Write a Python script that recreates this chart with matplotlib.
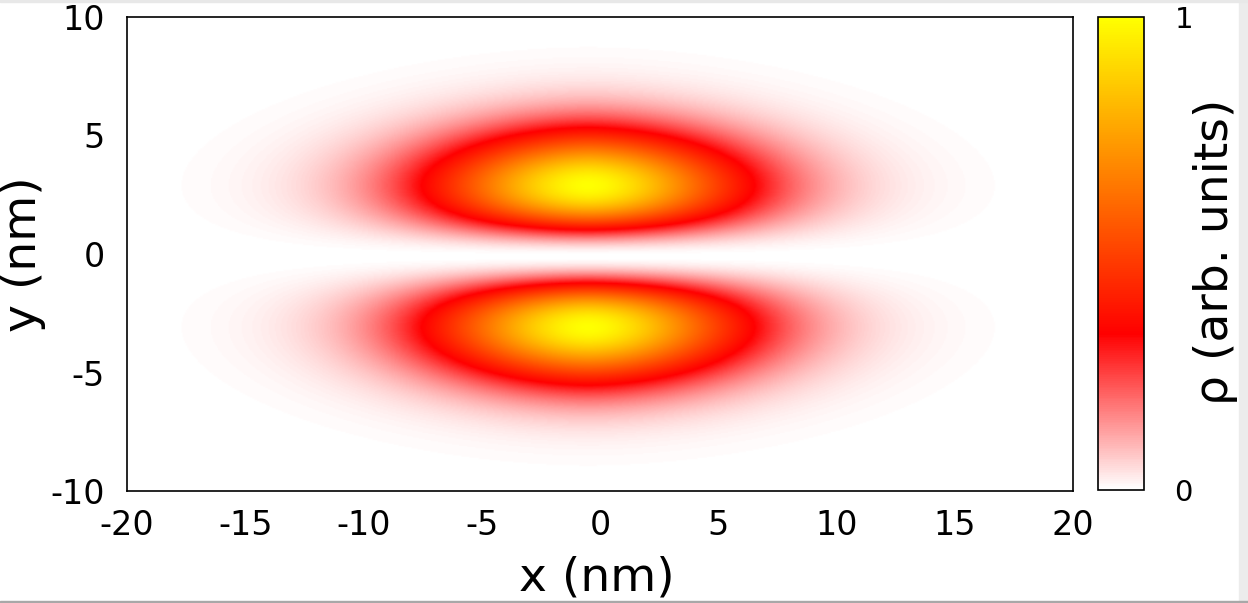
import numpy as np
import matplotlib.pyplot as plt
from matplotlib.colors import LinearSegmentedColormap
from matplotlib.patches import Rectangle

plt.rcParams['axes.unicode_minus'] = False

# axis ranges and ticks
x_range = [-20, 20]
y_range = [-10, 10]
x_ticks = [-20, -15, -10, -5, 0, 5, 10, 15, 20]
y_ticks = [-10, -5, 0, 5, 10]
cb_ticks = [0, 1]

# p-like density: two lobes at y = +-b, stretched-exponential profile along x
lobe_center = [-0.5, -0.1]   # x0, y0 in nm
lobe_width = [6.65, 3.0]     # a (x), b (y) in nm
x_power = 1.8

# palette: white -> red -> yellow
pal_stops = [0.0, 0.33, 1.0]
pal_colors = ['white', 'red', 'yellow']

x = np.linspace(x_range[0], x_range[1], 801)
y = np.linspace(y_range[0], y_range[1], 401)
X, Y = np.meshgrid(x, y)
tx = (X - lobe_center[0]) / lobe_width[0]
ty = (Y - lobe_center[1]) / lobe_width[1]
rho = ty**2 * np.exp(1 - ty**2) * np.exp(-np.abs(tx)**x_power)
rho = rho / rho.max()

cmap = LinearSegmentedColormap.from_list('wry', list(zip(pal_stops, pal_colors)))

fig = plt.figure(figsize=(12.48, 6.03), dpi=100)
W, H = 1248, 603
ax = fig.add_axes([127 / W, 1 - 491 / H, (1073 - 127) / W, (491 - 17) / H])
cax = fig.add_axes([1098 / W, 1 - 490 / H, (1144 - 1098) / W, (490 - 17) / H])

im = ax.imshow(rho, extent=[x_range[0], x_range[1], y_range[0], y_range[1]],
               origin='lower', cmap=cmap, vmin=0, vmax=1, aspect='auto',
               interpolation='bilinear')
ax.set_xlim(x_range)
ax.set_ylim(y_range)
ax.set_xticks(x_ticks)
ax.set_yticks(y_ticks)
ax.tick_params(length=0, labelsize=24)
ax.tick_params(axis='y', pad=16)
ax.tick_params(axis='x', pad=13)
for s in ax.spines.values():
    s.set_linewidth(1.2)

cb = fig.colorbar(im, cax=cax, ticks=cb_ticks)
cb.ax.tick_params(length=0, labelsize=21, pad=22)
cb.outline.set_linewidth(1.2)

# axis titles placed where the reference has them
fig.text(597 / W, 1 - 578 / H, 'x (nm)', fontsize=34, ha='center', va='center')
fig.text(24 / W, 1 - 254 / H, 'y (nm)', fontsize=34, ha='center', va='center',
         rotation=90)
fig.text(1215 / W, 1 - 252 / H, 'ρ (arb. units)', fontsize=34, ha='center',
         va='center', rotation=90)

# screenshot frame: grey strip on the right and thin line at the bottom
fig.patches.append(Rectangle((1239 / W, 0), 9 / W, 1, transform=fig.transFigure,
                             color='#ececec', zorder=-1))
fig.patches.append(Rectangle((0, 0), 1, 2 / H, transform=fig.transFigure,
                             color='#a8a8a8', zorder=-1))
fig.patches.append(Rectangle((0, 1 - 2 / H), 1, 2 / H, transform=fig.transFigure,
                             color='#e8e8e8', zorder=-1))

fig.savefig('out.png', dpi=100)
